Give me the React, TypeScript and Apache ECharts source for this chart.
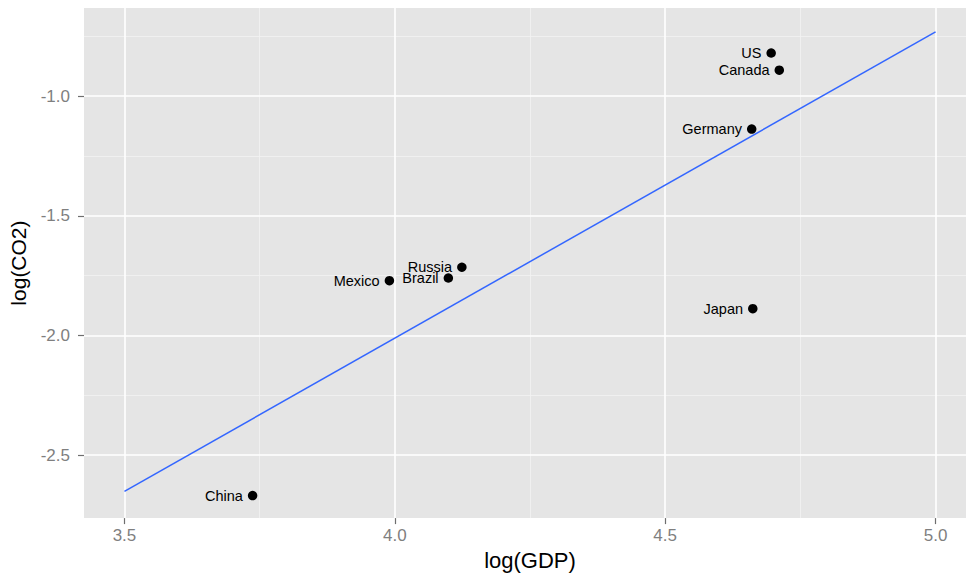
import React, { useEffect, useRef } from "react";
import * as echarts from "echarts";

const COUNTRIES = ["US", "Canada", "Germany", "Russia", "Brazil", "Mexico", "Japan", "China"];
const LOG_GDP = [4.696, 4.711, 4.66, 4.124, 4.099, 3.99, 4.662, 3.737];
const LOG_CO2 = [-0.82, -0.892, -1.138, -1.715, -1.76, -1.771, -1.888, -2.669];

const FIT_X = [3.5, 5.0];
const FIT_Y = [-2.651, -0.732];

const X_MAJOR = [3.5, 4.0, 4.5, 5.0];
const X_MINOR = [3.75, 4.25, 4.75];
const Y_MAJOR = [-2.5, -2.0, -1.5, -1.0];
const Y_MINOR = [-2.25, -1.75, -1.25, -0.75];

const FONT = "'Liberation Sans', Arial, sans-serif";

export default function App() {
  const ref = useRef<HTMLDivElement>(null);
  useEffect(() => {
    if (!ref.current) return;
    const chart = echarts.init(ref.current, null, { renderer: "svg" });
    const gridLine = (axis: "xAxis" | "yAxis", v: number, major: boolean) => ({
      [axis]: v,
      lineStyle: {
        color: major ? "#ffffff" : "#f2f2f2",
        width: major ? 1.6 : 0.8,
        type: "solid",
      },
    });
    const markData = [
      ...X_MINOR.map((v) => gridLine("xAxis", v, false)),
      ...Y_MINOR.map((v) => gridLine("yAxis", v, false)),
      ...X_MAJOR.map((v) => gridLine("xAxis", v, true)),
      ...Y_MAJOR.map((v) => gridLine("yAxis", v, true)),
    ];
    chart.setOption({
      animation: false,
      backgroundColor: "#ffffff",
      grid: {
        left: 83,
        top: 8,
        right: 0,
        bottom: 54.3,
        show: true,
        backgroundColor: "#e5e5e5",
        borderWidth: 0,
      },
      xAxis: {
        type: "value",
        min: 3.4252,
        max: 5.0563,
        name: "log(GDP)",
        nameLocation: "middle",
        nameGap: 27,
        nameTextStyle: { fontFamily: FONT, fontSize: 22, color: "#000000", padding: [0, 0, 0, 10] },
        axisLine: { show: false },
        splitLine: { show: false },
        axisTick: {
          show: true,
          customValues: X_MAJOR,
          length: 6,
          lineStyle: { color: "#6e6e6e", width: 1.2 },
        },
        axisLabel: {
          customValues: X_MAJOR,
          formatter: (v: number) => v.toFixed(1),
          margin: 9,
          fontFamily: FONT,
          fontSize: 17,
          color: "#7f7f7f",
        },
      },
      yAxis: {
        type: "value",
        min: -2.763,
        max: -0.632,
        name: "log(CO2)",
        nameLocation: "middle",
        nameGap: 55,
        nameRotate: 90,
        nameTextStyle: { fontFamily: FONT, fontSize: 21, color: "#000000" },
        axisLine: { show: false },
        splitLine: { show: false },
        axisTick: {
          show: true,
          customValues: Y_MAJOR,
          length: 6,
          lineStyle: { color: "#6e6e6e", width: 1.2 },
        },
        axisLabel: {
          customValues: Y_MAJOR,
          formatter: (v: number) => v.toFixed(1),
          margin: 14,
          fontFamily: FONT,
          fontSize: 17,
          color: "#7f7f7f",
        },
      },
      series: [
        {
          type: "line",
          name: "grid",
          data: [],
          silent: true,
          z: 0,
          markLine: {
            silent: true,
            z: 0,
            symbol: ["none", "none"],
            label: { show: false },
            animation: false,
            data: markData,
          },
        },
        {
          type: "line",
          name: "fit",
          z: 5,
          data: FIT_X.map((x, i) => [x, FIT_Y[i]]),
          showSymbol: false,
          symbol: "none",
          lineStyle: { color: "#3366ff", width: 1.5 },
          silent: true,
        },
        {
          type: "scatter",
          name: "countries",
          z: 6,
          symbol: "circle",
          symbolSize: 9.5,
          itemStyle: { color: "#000000", opacity: 1 },
          data: LOG_GDP.map((x, i) => ({ name: COUNTRIES[i], value: [x, LOG_CO2[i]] })),
          label: {
            show: true,
            position: "left",
            distance: 5,
            formatter: (p: any) => p.name,
            fontFamily: FONT,
            fontSize: 14.5,
            color: "#000000",
          },
        },
      ],
    });
    return () => chart.dispose();
  }, []);
  return (
    <div
      ref={ref}
      style={{ position: "fixed", left: 0, top: 0, width: 966, height: 576 }}
    />
  );
}
